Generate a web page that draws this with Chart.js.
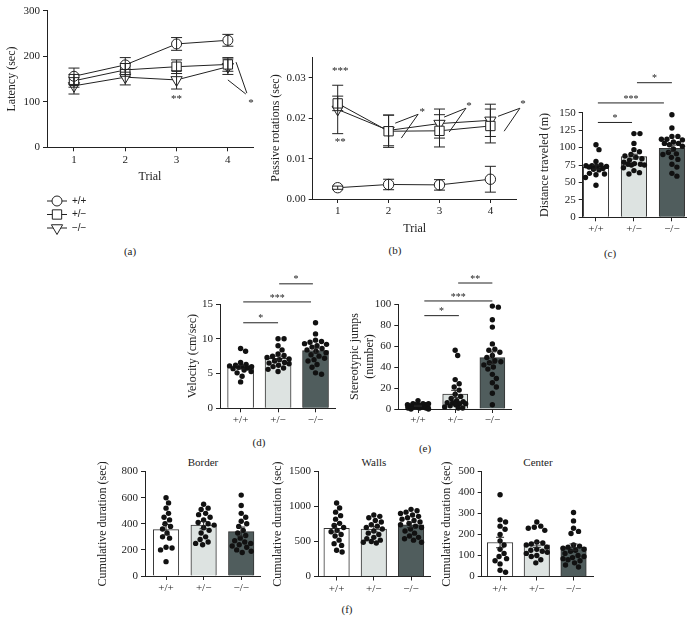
<!DOCTYPE html>
<html lang="en">
<head>
  <meta charset="UTF-8">
  <title>Motor and open field tests</title>
  <script src="https://cdn.jsdelivr.net/npm/chart.js"></script>
  <style>
    body {
      margin: 0;
      background: #fff;
      font-family: 'Liberation Serif', 'DejaVu Serif', serif;
      color: #222;
    }
    #fig {
      position: relative;
      width: 698px;
      height: 631px;
      overflow: hidden;
    }
    #fig canvas { position: absolute; }
    .lbl {
      position: absolute;
      font-size: 11px;
      transform: translate(-50%, -50%);
      white-space: nowrap;
    }
  </style>
</head>
<body>
  <div id="fig">
    <div class="lbl" style="left:130px; top:251px">(a)</div>
    <div class="lbl" style="left:395px; top:250px">(b)</div>
    <div class="lbl" style="left:610px; top:253px">(c)</div>
    <div class="lbl" style="left:259px; top:442px">(d)</div>
    <div class="lbl" style="left:425px; top:448px">(e)</div>
    <div class="lbl" style="left:347px; top:609px">(f)</div>
    <div class="lbl" style="left:203px; top:462px">Border</div>
    <div class="lbl" style="left:374px; top:462px">Walls</div>
    <div class="lbl" style="left:538px; top:462px">Center</div>
  </div>

  <script>
    // ---- data ----
    const trials = [1, 2, 3, 4];
    const genotypes = ['+/+', '+/−', '−/−'];

    // (a) rotarod latency (sec), mean and SEM per trial
    const latWT = [156, 181, 227, 235];
    const latWTsem = [18, 16, 14, 13];
    const latHet = [146, 170, 177, 182];
    const latHetSem = [14, 14, 15, 15];
    const latKO = [135, 154, 148, 177];
    const latKOsem = [18, 17, 20, 17];

    // (b) passive rotations (sec)
    const rotWT = [0.0028, 0.0036, 0.0035, 0.0049];
    const rotWTsem = [0.0004, 0.0013, 0.0013, 0.0032];
    const rotHet = [0.0237, 0.0168, 0.0169, 0.0181];
    const rotHetSem = [0.0018, 0.0040, 0.0040, 0.0042];
    const rotKO = [0.0222, 0.0170, 0.0187, 0.0195];
    const rotKOsem = [0.0060, 0.0038, 0.0036, 0.0040];

    // (c) distance traveled (m)
    const distMean = [72, 87, 99];
    const distSem = [3, 3.5, 4.5];
    const distWT = [104, 97, 80, 75, 74, 74, 73, 73, 72, 70, 69, 68, 63, 62, 61, 57, 46];
    const distHet = [120, 120, 106, 97, 94, 90, 88, 86, 84, 82, 79, 77, 76, 76, 75, 75, 71, 67, 64, 62];
    const distKO = [147, 128, 116, 116, 112, 112, 111, 108, 106, 106, 104, 102, 98, 93, 91, 90, 86, 83, 76, 72, 63, 59];

    // (d) velocity (cm/sec)
    const velMean = [5.9, 7.2, 8.3];
    const velSem = [0.25, 0.3, 0.35];
    const velWT = [8.6, 8.2, 6.6, 6.3, 6.2, 6.1, 6.0, 6.0, 5.9, 5.8, 5.7, 5.5, 5.3, 5.1, 4.6, 3.8];
    const velHet = [10.0, 10.0, 9.0, 8.4, 7.8, 7.6, 7.5, 7.3, 7.1, 7.0, 6.8, 6.6, 6.5, 6.4, 6.2, 6.0, 5.8, 5.6, 5.3];
    const velKO = [12.3, 10.7, 9.8, 9.6, 9.5, 9.3, 9.2, 9.0, 8.8, 8.6, 8.4, 8.2, 8.0, 7.7, 7.5, 7.2, 7.0, 6.8, 6.3, 5.9, 5.1, 4.9];

    // (e) stereotypic jumps (number)
    const jumpMean = [2.9, 14.3, 48.9];
    const jumpSem = [0.6, 3.5, 5.5];
    const jumpWT = [8, 5, 5, 5, 4, 4, 4, 4, 3, 3, 3, 2, 2, 2, 1, 1, 1, 0, 0];
    const jumpHet = [56, 51, 28, 24, 21, 18, 14, 12, 10, 8, 7, 6, 6, 5, 5, 4, 3, 2, 1, 1];
    const jumpKO = [98, 97, 85, 78, 62, 57, 56, 54, 51, 49, 46, 45, 44, 42, 40, 38, 33, 29, 25, 21, 15, 4];

    // (f) cumulative duration (sec) in border / walls / center
    const borderMean = [355, 390, 340];
    const borderSem = [40, 28, 35];
    const borderWT = [600, 560, 520, 480, 450, 430, 400, 380, 360, 330, 300, 290, 220, 215, 200, 110];
    const borderHet = [550, 520, 510, 480, 470, 450, 430, 410, 400, 390, 370, 350, 330, 300, 280, 260, 250, 240];
    const borderKO = [620, 540, 480, 450, 420, 400, 380, 350, 330, 310, 290, 270, 260, 250, 240, 230, 220, 200, 190, 180];

    const wallsMean = [690, 677, 738];
    const wallsSem = [55, 40, 40];
    const wallsWT = [1050, 980, 920, 870, 820, 760, 730, 700, 660, 640, 600, 580, 520, 470, 445, 375, 350];
    const wallsHet = [880, 860, 840, 800, 780, 740, 720, 700, 680, 650, 620, 600, 560, 540, 520, 500, 490, 480];
    const wallsKO = [960, 940, 920, 900, 880, 860, 840, 820, 800, 780, 760, 740, 720, 700, 680, 650, 620, 580, 560, 540, 520, 490];

    const centerMean = [162, 151, 140];
    const centerSem = [25, 12, 15];
    const centerWT = [390, 270, 260, 240, 225, 200, 170, 150, 130, 110, 95, 85, 75, 60, 30, 20];
    const centerHet = [260, 240, 235, 230, 220, 165, 160, 155, 150, 140, 130, 125, 120, 115, 110, 100, 95, 80, 65];
    const centerKO = [305, 265, 230, 215, 205, 150, 145, 140, 135, 130, 125, 120, 110, 100, 95, 90, 85, 80, 75, 65, 55, 45];

    // ---- styling ----
    const INK = '#222';
    const FILLS = ['#ffffff', '#dde3e1', '#505d5d'];
    const EDGE = '#333';
    const DOT = 2.7;
    const TITLE = 12, LH = TITLE * 1.2;

    Chart.defaults.font.family = "'Liberation Serif', 'DejaVu Serif', serif";
    Chart.defaults.font.size = 11;
    Chart.defaults.color = INK;
    Chart.defaults.animation = false;
    Chart.defaults.plugins.legend.display = false;
    Chart.defaults.plugins.tooltip.enabled = false;

    function line(ctx, x1, y1, x2, y2) {
      ctx.beginPath();
      ctx.moveTo(x1, y1);
      ctx.lineTo(x2, y2);
      ctx.stroke();
    }

    // error bars, significance brackets, star notes
    const extras = {
      id: 'extras',
      afterDatasetsDraw(chart, args, o) {
        const ctx = chart.ctx, xs = chart.scales.x, ys = chart.scales.y;
        const px = v => xs.getPixelForValue(v), py = v => ys.getPixelForValue(v);
        ctx.save();
        ctx.strokeStyle = INK;
        ctx.fillStyle = INK;
        ctx.lineWidth = 1;
        const c = (o.cap || 10) / 2;
        chart.data.datasets.forEach(ds => {
          if (!ds.sem) return;
          ds.data.forEach((p, i) => {
            const x = px(p.x), lo = py(p.y - ds.sem[i]), hi = py(p.y + ds.sem[i]);
            line(ctx, x, lo, x, hi);
            line(ctx, x - c, lo, x + c, lo);
            line(ctx, x - c, hi, x + c, hi);
          });
        });
        ctx.font = (o.starSize || 11) + "px 'Liberation Serif', serif";
        ctx.textAlign = 'center';
        ctx.textBaseline = 'middle';
        (o.brackets || []).forEach(b => {
          const y = py(b.y);
          line(ctx, px(b.x1), y, px(b.x2), y);
          ctx.fillText(b.text, (px(b.x1) + px(b.x2)) / 2, y - 4);
        });
        (o.segments || []).forEach(s => line(ctx, px(s[0]), py(s[1]), px(s[2]), py(s[3])));
        (o.notes || []).forEach(n => ctx.fillText(n.text, px(n.x), py(n.y)));
        ctx.restore();
      }
    };

    // vertical legend with line + marker, as in panel (a)
    const legendA = {
      id: 'legendA',
      afterDraw(chart, args, o) {
        if (!o.rows) return;
        const ctx = chart.ctx;
        ctx.save();
        chart.data.datasets.forEach((ds, i) => {
          const y = o.rows[i];
          ctx.strokeStyle = INK;
          ctx.lineWidth = 1;
          line(ctx, o.x1, y, o.x2, y);
          ctx.fillStyle = '#fff';
          Chart.helpers.drawPoint(ctx, {
            pointStyle: ds.pointStyle, rotation: ds.pointRotation || 0,
            radius: ds.pointRadius, borderWidth: 1
          }, (o.x1 + o.x2) / 2, y);
          ctx.fillStyle = INK;
          ctx.font = "10px 'Liberation Sans', sans-serif";
          ctx.textAlign = 'left';
          ctx.textBaseline = 'middle';
          ctx.fillText(ds.label, o.textX, y);
        });
        ctx.restore();
      }
    };
    Chart.register(extras, legendA);

    const fig = document.getElementById('fig');

    function axis(extra) {
      return Object.assign({
        type: 'linear',
        offset: false,
        grid: { display: true, drawOnChartArea: false, drawTicks: true, tickLength: 4, color: INK, offset: false },
        border: { display: true, color: INK, width: 1 }
      }, extra);
    }

    // box = canvas on the page, area = plot area on the page
    function makeChart(box, area, cfg) {
      const cv = document.createElement('canvas');
      cv.width = box.w;
      cv.height = box.h;
      cv.style.left = box.l + 'px';
      cv.style.top = box.t + 'px';
      fig.appendChild(cv);
      const yw = area.l - box.l;
      const xh = cfg.xTitleY ? cfg.xTitleY + LH / 2 - area.b : box.t + box.h - area.b;
      return new Chart(cv, {
        type: cfg.type,
        data: { datasets: cfg.datasets },
        options: {
          responsive: false,
          layout: {
            padding: { left: 0, top: area.t - box.t, right: box.l + box.w - area.r, bottom: box.t + box.h - area.b - xh }
          },
          scales: {
            x: axis({
              min: cfg.x[0], max: cfg.x[1],
              afterBuildTicks: s => { s.ticks = cfg.xTicks.map(v => ({ value: v })); },
              afterFit: s => { s.height = xh; },
              ticks: { padding: cfg.xPad, maxRotation: 0, minRotation: 0, autoSkip: false, callback: cfg.xFmt },
              title: { display: !!cfg.xTitle, text: cfg.xTitle || '', font: { size: TITLE }, padding: 0 }
            }),
            y: axis({
              min: cfg.y[0], max: cfg.y[1],
              afterBuildTicks: s => { s.ticks = cfg.yTicks.map(v => ({ value: v })); },
              afterFit: s => { s.width = yw; },
              ticks: { padding: 3, callback: cfg.yFmt || (v => v) },
              title: {
                display: true, text: cfg.yTitle, font: { size: TITLE },
                padding: { top: cfg.yTitleX - box.l - LH / 2, bottom: 0 }
              }
            })
          },
          plugins: { extras: cfg.extras || {}, legendA: cfg.legend || {} }
        }
      });
    }

    function lineSet(label, means, sems, style, radius, rot) {
      return {
        label,
        data: trials.map((t, i) => ({ x: t, y: means[i] })),
        sem: sems,
        borderColor: INK, borderWidth: 1, tension: 0, fill: false,
        pointStyle: style, pointRadius: radius, pointHoverRadius: radius, pointRotation: rot || 0,
        pointBackgroundColor: '#fff', pointBorderColor: INK, pointBorderWidth: 1
      };
    }

    // beeswarm kept inside the bar: spread dots sideways, overlap only when the bar is full
    function swarm(chart, vals, center, half) {
      const xs = chart.scales.x, ys = chart.scales.y;
      const unit = xs.getPixelForValue(1) - xs.getPixelForValue(0);
      const d = 2 * DOT + 0.3;
      const placed = [];
      return vals.slice().sort((a, b) => b - a).map(v => {
        const y = ys.getPixelForValue(v);
        let best = 0, bestGap = -1;
        for (let k = 0; ; k++) {
          const c = (k % 2 ? 1 : -1) * Math.ceil(k / 2) * 0.5;
          if (Math.abs(c) > half) break;
          const gap = placed.reduce((m, p) => Math.min(m, Math.hypot(p.x - c, p.y - y)), Infinity);
          if (gap >= d) { best = c; break; }
          if (gap > bestGap + 0.01) { bestGap = gap; best = c; }
        }
        placed.push({ x: best, y });
        return { x: center + best / unit, y: v };
      });
    }

    function barChart(box, area, cfg, means, sems, groups, thick) {
      const ds = [{
        type: 'bar',
        data: means.map((m, i) => ({ x: i, y: m })),
        sem: sems,
        backgroundColor: FILLS, borderColor: EDGE, borderWidth: 1,
        barThickness: thick, order: 2
      }];
      groups.forEach(() => ds.push({
        type: 'scatter', data: [], pointRadius: DOT, pointHoverRadius: DOT,
        pointBackgroundColor: '#111', pointBorderWidth: 0, order: 1, clip: false
      }));
      const chart = makeChart(box, area, Object.assign({
        type: 'bar', datasets: ds, xTicks: [0, 1, 2], xFmt: v => genotypes[v], xPad: 1
      }, cfg));
      groups.forEach((vals, k) => { chart.data.datasets[k + 1].data = swarm(chart, vals, k, thick / 2 - 2); });
      chart.update('none');
      return chart;
    }

    // (a)
    makeChart({ l: 0, t: 0, w: 290, h: 240 }, { l: 47, t: 10.7, r: 253, b: 147.3 }, {
      type: 'line',
      datasets: [
        lineSet('+/+', latWT, latWTsem, 'circle', 5),
        lineSet('+/−', latHet, latHetSem, 'rect', 6.6),
        lineSet('−/−', latKO, latKOsem, 'triangle', 6.5, 180)
      ],
      x: [0.474, 4.49], xTicks: trials, xFmt: v => v, xPad: 2,
      xTitle: 'Trial', xTitleY: 176.7,
      y: [0, 300], yTicks: [0, 100, 200, 300],
      yTitle: 'Latency (sec)', yTitleX: 12.3,
      extras: {
        cap: 11,
        notes: [{ text: '**', x: 3, y: 106 }, { text: '*', x: 4.45, y: 97 }],
        segments: [[4.16, 187, 4.37, 119], [4.0, 148, 4.35, 117]]
      },
      legend: { rows: [201, 214.5, 228], x1: 47, x2: 67, textX: 72 }
    });

    // (b)
    makeChart({ l: 265, t: 40, w: 280, h: 200 }, { l: 312.7, t: 57, r: 516.7, b: 199 }, {
      type: 'line',
      datasets: [
        lineSet('+/+', rotWT, rotWTsem, 'circle', 5.2),
        lineSet('+/−', rotHet, rotHetSem, 'rect', 6.6),
        lineSet('−/−', rotKO, rotKOsem, 'triangle', 6.5, 180)
      ],
      x: [0.509, 4.517], xTicks: trials, xFmt: v => v, xPad: 2,
      xTitle: 'Trial', xTitleY: 229.3,
      y: [0, 0.0352], yTicks: [0, 0.01, 0.02, 0.03], yFmt: v => v.toFixed(2),
      yTitle: 'Passive rotations (sec)', yTitleX: 276,
      extras: {
        cap: 11,
        notes: [
          { text: '***', x: 1.05, y: 0.0318 }, { text: '**', x: 1.05, y: 0.0140 },
          { text: '*', x: 2.66, y: 0.0216 }, { text: '*', x: 3.58, y: 0.0231 }, { text: '*', x: 4.64, y: 0.0236 }
        ],
        segments: [
          [2.13, 0.0188, 2.58, 0.0210], [2.25, 0.0151, 2.58, 0.0210],
          [3.09, 0.0203, 3.52, 0.0225], [3.19, 0.0166, 3.52, 0.0225],
          [4.15, 0.0205, 4.58, 0.0225], [4.27, 0.0168, 4.58, 0.0225]
        ]
      }
    });

    // (c)
    barChart({ l: 535, t: 70, w: 160, h: 168 }, { l: 582.7, t: 112.7, r: 686.7, b: 217.3 }, {
      x: [-0.35, 2.39], y: [0, 150], yTicks: [0, 25, 50, 75, 100, 125, 150],
      yTitle: 'Distance traveled (m)', yTitleX: 545,
      extras: {
        cap: 8, starSize: 10,
        brackets: [
          { x1: 0.05, x2: 0.95, y: 136, text: '*' },
          { x1: 0.05, x2: 1.79, y: 164, text: '***' },
          { x1: 1.08, x2: 2.0, y: 193, text: '*' }
        ]
      }
    }, distMean, distSem, [distWT, distHet, distKO], 25.5);

    // (d)
    barChart({ l: 180, t: 268, w: 160, h: 162 }, { l: 220, t: 304, r: 335, b: 408.3 }, {
      x: [-0.55, 2.52], y: [0, 15], yTicks: [0, 5, 10, 15],
      yTitle: 'Velocity (cm/sec)', yTitleX: 193.3,
      extras: {
        cap: 8, starSize: 10,
        brackets: [
          { x1: 0.07, x2: 1.0, y: 12.3, text: '*' },
          { x1: 0.07, x2: 1.88, y: 15.3, text: '***' },
          { x1: 1.03, x2: 1.93, y: 17.9, text: '*' }
        ]
      }
    }, velMean, velSem, [velWT, velHet, velKO], 26);

    // (e)
    barChart({ l: 340, t: 268, w: 180, h: 162 }, { l: 398.3, t: 304, r: 511.7, b: 409 }, {
      x: [-0.53, 2.52], y: [0, 100], yTicks: [0, 20, 40, 60, 80, 100],
      yTitle: ['Stereotypic jumps', '(number)'], yTitleX: 355,
      extras: {
        cap: 8, starSize: 10,
        brackets: [
          { x1: 0.17, x2: 1.1, y: 88.9, text: '*' },
          { x1: 0.17, x2: 2.0, y: 102.9, text: '***' },
          { x1: 1.08, x2: 2.0, y: 120, text: '**' }
        ]
      }
    }, jumpMean, jumpSem, [jumpWT, jumpHet, jumpKO], 25);

    // (f) border / walls / center
    barChart({ l: 90, t: 462, w: 175, h: 135 }, { l: 145, t: 470, r: 260, b: 576 }, {
      x: [-0.56, 2.5], y: [0, 800], yTicks: [0, 200, 400, 600, 800], xPad: 2,
      yTitle: 'Cumulative duration (sec)', yTitleX: 103,
      extras: { cap: 8 }
    }, borderMean, borderSem, [borderWT, borderHet, borderKO], 25.5);

    barChart({ l: 265, t: 462, w: 170, h: 135 }, { l: 318, t: 471.5, r: 430, b: 576.5 }, {
      x: [-0.5, 2.51], y: [0, 1500], yTicks: [0, 500, 1000, 1500], xPad: 2,
      yTitle: 'Cumulative duration (sec)', yTitleX: 278.3,
      extras: { cap: 8 }
    }, wallsMean, wallsSem, [wallsWT, wallsHet, wallsKO], 25.5);

    barChart({ l: 435, t: 462, w: 170, h: 135 }, { l: 481.7, t: 471.5, r: 593, b: 576.5 }, {
      x: [-0.5, 2.53], y: [0, 500], yTicks: [0, 100, 200, 300, 400, 500], xPad: 2,
      yTitle: 'Cumulative duration (sec)', yTitleX: 446.7,
      extras: { cap: 8 }
    }, centerMean, centerSem, [centerWT, centerHet, centerKO], 25.5);
  </script>
</body>
</html>
